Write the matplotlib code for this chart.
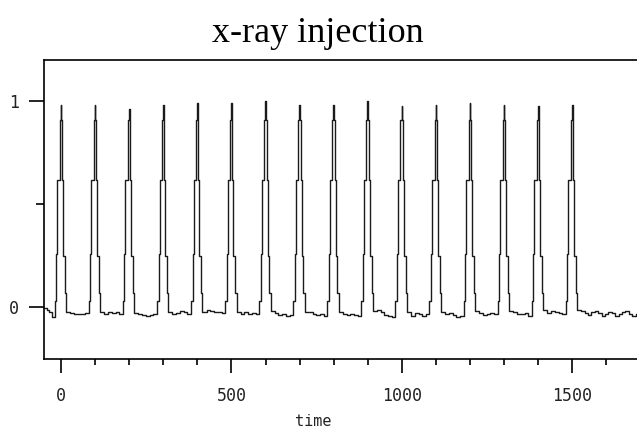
import numpy as np
import matplotlib.pyplot as plt
from matplotlib.ticker import MultipleLocator, FixedLocator

# injection times and peak heights
peak_times = [0, 100, 200, 300, 400, 500, 600, 700, 800, 900, 1000, 1100, 1200, 1300, 1400, 1500]
peak_heights = [0.98, 0.98, 0.96, 0.98, 0.99, 0.99, 1.0, 0.98, 0.98, 1.0, 0.976, 0.98, 0.99, 0.98, 0.976, 0.98]

# shape of one pulse (offset from injection time, level); None = peak height
pulse_offsets = [-19, -14, -11, -4, -1, 1, 3, 6, 11]
pulse_levels = [0.03, 0.26, 0.62, 0.91, None, 0.91, 0.62, 0.25, 0.07]

# baseline between pulses
gap_offsets = [15, 27, 38, 49, 60, 71]
gap_levels = [
    [-0.02, -0.025, -0.03, -0.03, -0.03, -0.025],
    [-0.02, -0.03, -0.02, -0.025, -0.02, -0.03],
    [-0.025, -0.03, -0.035, -0.04, -0.035, -0.03],
    [-0.02, -0.03, -0.025, -0.015, -0.02, -0.03],
    [-0.02, -0.01, -0.015, -0.02, -0.02, -0.025],
    [-0.02, -0.03, -0.02, -0.03, -0.025, -0.03],
    [-0.015, -0.025, -0.035, -0.03, -0.04, -0.035],
    [-0.02, -0.02, -0.03, -0.035, -0.03, -0.04],
    [-0.02, -0.03, -0.035, -0.03, -0.035, -0.04],
    [-0.015, -0.01, -0.02, -0.035, -0.04, -0.045],
    [-0.02, -0.04, -0.025, -0.03, -0.04, -0.03],
    [-0.02, -0.03, -0.025, -0.035, -0.045, -0.04],
    [-0.015, -0.025, -0.035, -0.03, -0.025, -0.03],
    [-0.015, -0.02, -0.03, -0.03, -0.025, -0.04],
    [-0.01, -0.025, -0.015, -0.02, -0.025, -0.03],
]

head_times = [-52, -42, -34, -26]
head_levels = [-0.005, -0.01, -0.02, -0.045]

tail_times = [1515, 1526, 1536, 1546, 1556, 1566, 1576, 1586, 1596, 1606,
              1616, 1626, 1636, 1646, 1656, 1666, 1676, 1686, 1696]
tail_levels = [-0.01, -0.015, -0.025, -0.035, -0.02, -0.015, -0.025, -0.04, -0.03, -0.02,
               -0.025, -0.04, -0.03, -0.02, -0.015, -0.03, -0.04, -0.03, -0.03]

# assemble the trace
t = list(head_times)
y = list(head_levels)
for i, (T, H) in enumerate(zip(peak_times, peak_heights)):
    for off, lev in zip(pulse_offsets, pulse_levels):
        t.append(T + off)
        y.append(H if lev is None else lev)
    if i < len(gap_levels):
        for off, lev in zip(gap_offsets, gap_levels[i]):
            t.append(T + off)
            y.append(lev)
t += tail_times
y += tail_levels

fig = plt.figure(figsize=(6.37, 4.32), dpi=100)
ax = fig.add_axes([44 / 637, 1 - 359 / 432, 1 - 44 / 637, 299 / 432])

ax.plot(t, y, color='#1a1a1a', lw=1.0, drawstyle='steps-post')

ax.set_xlim(-50, 1690)
ax.set_ylim(-0.25, 1.2)
ax.spines['right'].set_visible(False)
for s in ax.spines.values():
    s.set_linewidth(1.2)

ax.xaxis.set_major_locator(FixedLocator([0, 500, 1000, 1500]))
ax.xaxis.set_minor_locator(MultipleLocator(100))
ax.yaxis.set_major_locator(FixedLocator([0, 1]))
ax.yaxis.set_minor_locator(FixedLocator([0.5]))
ax.tick_params(axis='x', which='major', length=10, width=1.2, pad=10)
ax.tick_params(axis='x', which='minor', length=4.5, width=1.2)
ax.tick_params(axis='y', which='major', length=11, width=1.2, pad=7)
ax.tick_params(axis='y', which='minor', length=6, width=1.2)
for lab in ax.get_xticklabels() + ax.get_yticklabels():
    lab.set_family('DejaVu Sans Mono')
    lab.set_fontsize(12)
    lab.set_color('#222222')

ax.set_xlabel('time', family='DejaVu Sans Mono', fontsize=11, color='#222222')
ax.xaxis.set_label_coords((313 - 44) / 593, -0.183)

fig.text(318 / 637, 1 - 34 / 432, 'x-ray injection', family='Liberation Serif',
         fontsize=26, ha='center', va='center')

fig.savefig('out.png', dpi=100)
